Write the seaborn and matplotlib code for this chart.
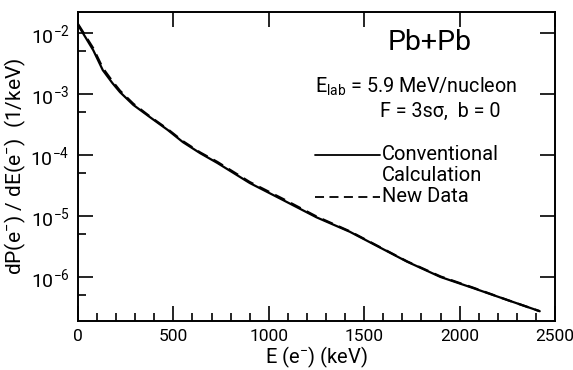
import matplotlib
matplotlib.use("Agg")
import matplotlib.pyplot as plt
from matplotlib.ticker import FixedLocator, NullFormatter
import seaborn as sns
import pandas as pd

# Electron spectrum, Pb+Pb at 5.9 MeV/nucleon
energy_conv = [0, 80, 130, 180, 220, 290, 380, 470, 550, 640, 730, 900,
               1075, 1250, 1425, 1725, 1900, 2070, 2250, 2420]
prob_conv = [1.35e-2, 5.2e-3, 2.45e-3, 1.51e-3, 1.07e-3, 6.6e-4, 4.1e-4,
             2.57e-4, 1.62e-4, 1.07e-4, 7.4e-5, 3.47e-5, 1.82e-5, 9.5e-6,
             5.5e-6, 1.78e-6, 1.0e-6, 6.6e-7, 4.2e-7, 2.75e-7]

energy_new = [0, 80, 130, 180, 220, 290, 380, 470, 550, 640, 730, 900,
              1075, 1250, 1425, 1725, 1900, 2070, 2250, 2420]
prob_new = [1.4e-2, 5.6e-3, 2.65e-3, 1.62e-3, 1.13e-3, 6.9e-4, 4.2e-4,
            2.65e-4, 1.68e-4, 1.1e-4, 7.7e-5, 3.6e-5, 1.9e-5, 9.8e-6,
            5.6e-6, 1.8e-6, 1.02e-6, 6.7e-7, 4.2e-7, 2.75e-7]

x_ticks = [0, 500, 1000, 1500, 2000, 2500]
y_ticks = [1e-6, 1e-5, 1e-4, 1e-3, 1e-2]
y_tick_labels = [r"$10^{-6}$", r"$10^{-5}$", r"$10^{-4}$", r"$10^{-3}$", r"$10^{-2}$"]

sns.set_style("ticks")
FONT = ["Roboto", "DejaVu Sans"]
plt.rcParams["font.family"] = FONT
plt.rcParams["mathtext.fontset"] = "custom"
plt.rcParams["mathtext.rm"] = FONT[0]
plt.rcParams["mathtext.it"] = FONT[0]
plt.rcParams["axes.linewidth"] = 1.4
for key in ["text.color", "axes.labelcolor", "xtick.color", "ytick.color",
            "axes.edgecolor"]:
    plt.rcParams[key] = "black"

conv = pd.DataFrame({"E": energy_conv, "P": prob_conv})
new = pd.DataFrame({"E": energy_new, "P": prob_new})

fig = plt.figure(figsize=(5.73, 3.70), dpi=100)
W, H = 573, 370
ax = fig.add_axes([78 / W, 1 - 321 / H, 477 / W, 309 / H])

sns.lineplot(data=conv, x="E", y="P", ax=ax, color="black", lw=1.6)
sns.lineplot(data=new, x="E", y="P", ax=ax, color="black", lw=1.6,
             linestyle=(0, (5, 3)))

ax.set_yscale("log")
ax.set_xlim(0, 2500)
ax.set_ylim(1.9e-7, 2.2e-2)

ax.xaxis.set_major_locator(FixedLocator(x_ticks))
ax.xaxis.set_minor_locator(FixedLocator(list(range(100, 2500, 100))))
ax.yaxis.set_major_locator(FixedLocator(y_ticks))
ax.yaxis.set_minor_locator(FixedLocator([5e-7, 5e-6, 5e-5, 5e-4, 5e-3]))
ax.set_yticklabels(y_tick_labels)
ax.yaxis.set_minor_formatter(NullFormatter())

ax.tick_params(which="both", direction="in", top=True, right=True,
               labelsize=12.5, width=1.2)
ax.tick_params(axis="y", labelsize=14)
ax.tick_params(which="major", length=11, pad=6)
ax.tick_params(which="minor", length=6, top=False, right=False)

ax.set_xlabel(r"E (e$^{-}$) (keV)", fontsize=14.5, labelpad=0)
ax.set_ylabel(r"dP(e$^{-}$) / dE(e$^{-}$)  (1/keV)", fontsize=15, labelpad=2)


def fx(px):
    return px / W


def fy(py):
    return 1 - py / H


fig.text(fx(430), fy(43), "Pb+Pb", fontsize=20.5, ha="center", va="center")
fig.text(fx(315), fy(87), r"E$_{\rm lab}$ = 5.9 MeV/nucleon",
         fontsize=14.2, ha="left", va="center")
fig.text(fx(380), fy(111), "F = 3sσ,  b = 0", fontsize=14.2,
         ha="left", va="center")

# legend keys
fig.add_artist(plt.Line2D([fx(315), fx(380)], [fy(155), fy(155)],
                          color="black", lw=1.3, transform=fig.transFigure))
fig.add_artist(plt.Line2D([fx(315), fx(380)], [fy(197), fy(197)],
                          color="black", lw=1.3, linestyle=(0, (5, 3)),
                          transform=fig.transFigure))
fig.text(fx(382), fy(155), "Conventional", fontsize=14.5, ha="left", va="center")
fig.text(fx(382), fy(175), "Calculation", fontsize=14.5, ha="left", va="center")
fig.text(fx(382), fy(197), "New Data", fontsize=14.5, ha="left", va="center")

fig.savefig("out.png", dpi=100)
